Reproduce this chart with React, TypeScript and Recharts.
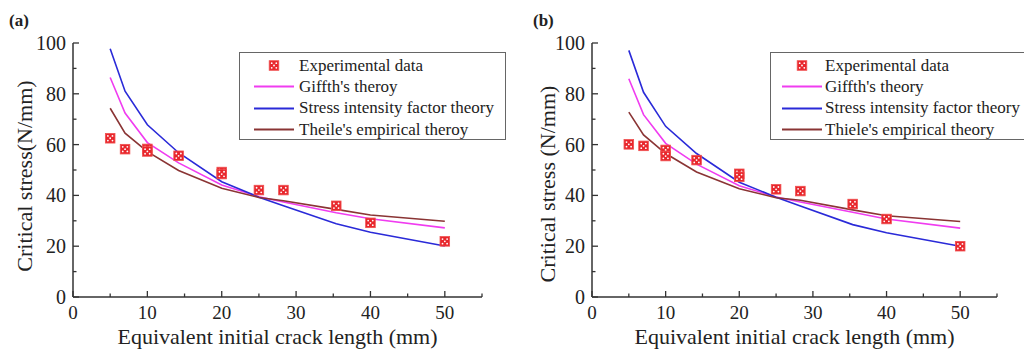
import React from 'react';
import { ComposedChart, Line, Scatter, XAxis, YAxis, Legend } from 'recharts';

// crack length values where the theory curves were evaluated
const curveX = [5, 7, 10, 14.2, 20, 25, 28.3, 35.4, 40, 50];

// panel (a)
const griffithA = [86.4, 72.4, 60.8, 52.8, 44.1, 39.5, 37.4, 33.2, 30.8, 27.2];
const stressA = [97.7, 81, 67.8, 56.8, 45.4, 39.3, 35.9, 28.8, 25.5, 20.1];
const theileA = [74.3, 64.5, 57.2, 49.8, 42.8, 39.2, 37.9, 34.5, 32.3, 29.8];
const expXA = [5, 7, 10, 10, 14.2, 20, 20, 25, 28.3, 35.4, 40, 50];
const expYA = [62.5, 58.2, 58.3, 57.3, 55.6, 49.2, 48.4, 42.1, 42.1, 35.9, 29.2, 21.9];

// panel (b)
const griffithB = [85.9, 71.8, 60.5, 52.3, 43.8, 39.4, 37.4, 33.4, 30.7, 27.1];
const stressB = [97.1, 80.6, 67.2, 56.5, 45.2, 39.3, 35.8, 28.5, 25.3, 20.0];
const theileB = [72.8, 63.8, 56.5, 49.2, 42.6, 39.1, 38.1, 34.3, 32.0, 29.7];
const expXB = [5, 7, 10, 10, 14.2, 20, 20, 25, 28.3, 35.4, 40, 50];
const expYB = [60.1, 59.5, 57.9, 55.5, 53.9, 48.5, 47.3, 42.4, 41.7, 36.6, 30.7, 20.0];

const xTicks = [0, 5, 10, 15, 20, 25, 30, 35, 40, 45, 50, 55];
const yTicks = [0, 10, 20, 30, 40, 50, 60, 70, 80, 90, 100];

const legendA = ['Experimental data', "Giffth's theroy", 'Stress intensity factor theory', "Theile's empirical theroy"];
const legendB = ['Experimental data', "Giffth's theory", 'Stress intensity factor theory', "Thiele's empirical theory"];

const FONT = '"Liberation Serif", "Times New Roman", serif';
const AXIS = '#333';
const TXT = '#222';
const RED = '#e8262c';
const MAGENTA = '#f03cf0';
const BLUE = '#2a2ad8';
const BROWN = '#8a3434';
const lineColors = [MAGENTA, BLUE, BROWN];

const toPts = (xs: number[], ys: number[]) => xs.map((x, i) => ({ x, y: ys[i] }));

function Marker({ cx, cy }: { cx: number; cy: number }) {
  const s = 4.8;
  const d = 2.3;
  return (
    <g>
      <rect x={cx - s} y={cy - s} width={s * 2} height={s * 2} fill={RED} stroke="#f05050" strokeWidth={0.8} />
      {[[-d, -d], [d, -d], [0, 0], [-d, d], [d, d]].map(([dx, dy], i) => (
        <circle key={i} cx={cx + dx} cy={cy + dy} r={0.9} fill="#fff" />
      ))}
    </g>
  );
}

function YTick({ x, y, payload }: any) {
  const v = payload.value;
  const major = v % 20 === 0;
  return (
    <g>
      <line x1={x} x2={x + (major ? 6 : 3.5)} y1={y} y2={y} stroke={AXIS} strokeWidth={1.3} />
      {major && (
        <text x={x - 7} y={y} dy="0.35em" textAnchor="end" fontSize={20} fill={TXT} fontFamily={FONT}>
          {v}
        </text>
      )}
    </g>
  );
}

function XTick({ x, y, payload }: any) {
  const v = payload.value;
  const major = v % 10 === 0 && v <= 50;
  return (
    <g>
      <line x1={x} x2={x} y1={y} y2={y - (major ? 6 : 3.5)} stroke={AXIS} strokeWidth={1.3} />
      {major && (
        <text x={x} y={y + 22} textAnchor="middle" fontSize={19} fill={TXT} fontFamily={FONT}>
          {v}
        </text>
      )}
    </g>
  );
}

function LegendBox({ labels, padLeft, gap, width }: { labels: string[]; padLeft: number; gap: number; width: number }) {
  return (
    <div
      style={{
        border: '1.5px solid #666',
        background: '#fff',
        width,
        paddingTop: 2,
        fontFamily: FONT,
        fontSize: 17,
        color: TXT,
        boxSizing: 'border-box',
        height: 88,
        textAlign: 'left',
      }}
    >
      {labels.map((name, i) => (
        <div key={name} style={{ display: 'flex', alignItems: 'center', height: 21.3, paddingLeft: padLeft, whiteSpace: 'nowrap' }}>
          <svg width={40} height={21} style={{ marginRight: gap, flex: 'none' }}>
            {i === 0 ? (
              <Marker cx={20} cy={10.5} />
            ) : (
              <line x1={0} x2={40} y1={10.5} y2={10.5} stroke={lineColors[i - 1]} strokeWidth={1.8} />
            )}
          </svg>
          <span>{name}</span>
        </div>
      ))}
    </div>
  );
}

interface PanelProps {
  tag: string;
  tagLeft: number;
  yAxisWidth: number;
  rightMargin: number;
  yTitle: string;
  yTitleX: number;
  yTitleY: number;
  griffith: number[];
  stress: number[];
  theile: number[];
  expX: number[];
  expY: number[];
  legend: string[];
  legendLeft: number;
  legendPad: number;
  legendGap: number;
  legendWidth: number;
}

function Panel(p: PanelProps) {
  const plotCenter = (p.yAxisWidth + 512 - p.rightMargin) / 2;
  return (
    <div style={{ position: 'relative', width: 512, height: 351 }}>
      <ComposedChart width={512} height={351} margin={{ top: 43, right: p.rightMargin, bottom: 0, left: 0 }}>
        <XAxis
          type="number"
          dataKey="x"
          domain={[0, 55]}
          ticks={xTicks}
          interval={0}
          height={54}
          tickSize={0}
          tickMargin={0}
          tickLine={false}
          tick={<XTick />}
          axisLine={{ stroke: AXIS, strokeWidth: 1.5 }}
          label={{
            content: () => (
              <text x={plotCenter} y={344} textAnchor="middle" fontSize={22} fill={TXT} fontFamily={FONT}>
                Equivalent initial crack length (mm)
              </text>
            ),
          }}
        />
        <YAxis
          type="number"
          domain={[0, 100]}
          ticks={yTicks}
          interval={0}
          width={p.yAxisWidth}
          tickSize={0}
          tickMargin={0}
          tickLine={false}
          tick={<YTick />}
          axisLine={{ stroke: AXIS, strokeWidth: 1.5 }}
          label={{
            content: () => (
              <text
                x={p.yTitleX}
                y={p.yTitleY}
                textAnchor="middle"
                dominantBaseline="central"
                transform={`rotate(-90, ${p.yTitleX}, ${p.yTitleY})`}
                fontSize={22}
                fill={TXT}
                fontFamily={FONT}
              >
                {p.yTitle}
              </text>
            ),
          }}
        />
        <Legend
          layout="horizontal"
          verticalAlign="middle"
          align="center"
          wrapperStyle={{ left: p.legendLeft, top: 52, width: p.legendWidth }}
          content={() => <LegendBox labels={p.legend} padLeft={p.legendPad} gap={p.legendGap} width={p.legendWidth} />}
        />
        <Line data={toPts(curveX, p.griffith)} dataKey="y" type="linear" stroke={MAGENTA} strokeWidth={1.6} dot={false} isAnimationActive={false} />
        <Line data={toPts(curveX, p.stress)} dataKey="y" type="linear" stroke={BLUE} strokeWidth={1.6} dot={false} isAnimationActive={false} />
        <Line data={toPts(curveX, p.theile)} dataKey="y" type="linear" stroke={BROWN} strokeWidth={1.6} dot={false} isAnimationActive={false} />
        <Scatter
          data={toPts(p.expX, p.expY)}
          dataKey="y"
          isAnimationActive={false}
          shape={(s: any) => <Marker cx={s.cx} cy={s.cy} />}
        />
      </ComposedChart>
      <div
        style={{
          position: 'absolute',
          left: p.tagLeft,
          top: 11,
          fontFamily: FONT,
          fontWeight: 'bold',
          fontSize: 17,
          color: TXT,
        }}
      >
        {p.tag}
      </div>
    </div>
  );
}

export default function App() {
  return (
    <div
      style={{
        position: 'absolute',
        left: 0,
        top: 0,
        width: 1024,
        height: 351,
        overflow: 'hidden',
        display: 'flex',
        background: '#fff',
      }}
    >
      <Panel
        tag="(a)"
        tagLeft={9}
        yAxisWidth={73}
        rightMargin={30}
        yTitle="Critical stress(N/mm)"
        yTitleX={24}
        yTitleY={176}
        griffith={griffithA}
        stress={stressA}
        theile={theileA}
        expX={expXA}
        expY={expYA}
        legend={legendA}
        legendLeft={239}
        legendPad={14}
        legendGap={5}
        legendWidth={267}
      />
      <Panel
        tag="(b)"
        tagLeft={21}
        yAxisWidth={80}
        rightMargin={27}
        yTitle="Critical stress (N/mm)"
        yTitleX={35}
        yTitleY={184}
        griffith={griffithB}
        stress={stressB}
        theile={theileB}
        expX={expXB}
        expY={expYB}
        legend={legendB}
        legendLeft={258}
        legendPad={11}
        legendGap={3}
        legendWidth={270}
      />
    </div>
  );
}
